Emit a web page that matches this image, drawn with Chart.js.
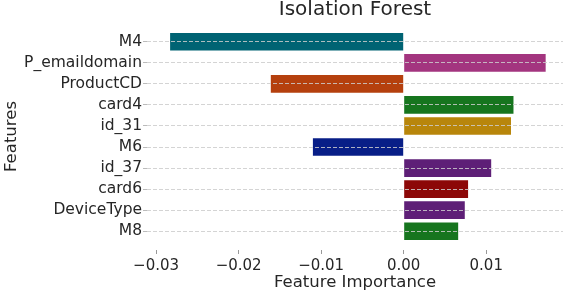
<!DOCTYPE html>
<html>
<head>
<meta charset="utf-8">
<script src="https://cdn.jsdelivr.net/npm/chart.js@4"></script>
<style>
  html, body { margin: 0; padding: 0; background: #fff; }
  #wrap { width: 586px; height: 293px; }
</style>
</head>
<body>
<div id="wrap"><canvas id="chart"></canvas></div>
<script>
const features = ['M4', 'P_emaildomain', 'ProductCD', 'card4', 'id_31', 'M6', 'id_37', 'card6', 'DeviceType', 'M8'];
const importance = [-0.0283, 0.0172, -0.0161, 0.0133, 0.0130, -0.0110, 0.0106, 0.0078, 0.0074, 0.0066];
const barColors = ['#006373', '#a3357f', '#b5400e', '#16751e', '#b8860b', '#081e87', '#5e1f77', '#8c0808', '#5e1f77', '#16751e'];
const xTicks = [-0.03, -0.02, -0.01, 0, 0.01];

Chart.defaults.font.family = 'DejaVu Sans';
Chart.defaults.color = '#262626';

const fmt = v => (v < 0 ? '\u2212' : '') + Math.abs(v).toFixed(2);

new Chart(document.getElementById('chart'), {
  type: 'bar',
  data: {
    datasets: [{
      label: 'Feature Importance',
      data: features.map((f, i) => ({x: importance[i], y: i})),
      backgroundColor: barColors,
      borderWidth: 0,
      barPercentage: 0.84,
      categoryPercentage: 1
    }]
  },
  options: {
    indexAxis: 'y',
    responsive: true,
    maintainAspectRatio: false,
    animation: false,
    layout: {
      padding: {left: 0, right: 23, top: 0, bottom: 0}
    },
    scales: {
      x: {
        type: 'linear',
        min: -0.0311,
        max: 0.0193,
        afterFit: (scale) => { scale.height = 43; },
        afterBuildTicks: (scale) => { scale.ticks = xTicks.map(v => ({value: v})); },
        border: {display: false},
        grid: {
          drawOnChartArea: false,
          tickLength: 4,
          tickColor: '#999'
        },
        ticks: {
          padding: 3,
          font: {size: 15},
          callback: (value) => fmt(value)
        },
        title: {
          display: true,
          text: 'Feature Importance',
          font: {size: 16.5},
          padding: {top: 0, bottom: 0}
        }
      },
      y: {
        type: 'linear',
        reverse: true,
        offset: false,
        min: -0.89,
        max: 9.89,
        afterFit: (scale) => { scale.width = 147; },
        afterBuildTicks: (scale) => { scale.ticks = features.map((f, i) => ({value: i})); },
        border: {display: false, dash: [4, 2]},
        grid: {
          z: 1,
          offset: false,
          color: 'rgba(205,205,205,0.85)',
          tickLength: 4,
          tickColor: '#bbb',
          tickBorderDash: [0, 0]
        },
        ticks: {
          padding: 1,
          font: {size: 15.5},
          callback: (value) => features[value]
        },
        title: {
          display: true,
          text: 'Features',
          font: {size: 16.5},
          padding: {top: 2, bottom: 0}
        }
      }
    },
    plugins: {
      legend: {display: false},
      tooltip: {enabled: false},
      title: {
        display: true,
        text: 'Isolation Forest',
        fullSize: false,
        color: '#262626',
        font: {size: 20, weight: 'normal', lineHeight: 1.0},
        padding: {top: 0, bottom: 3}
      }
    }
  }
});
</script>
</body>
</html>
